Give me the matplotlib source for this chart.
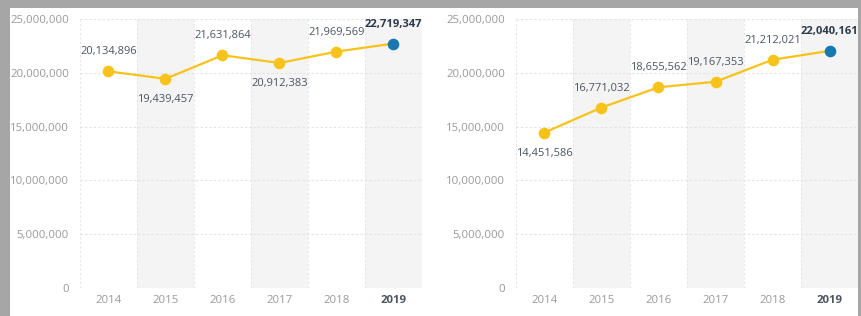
import matplotlib.pyplot as plt
from matplotlib.patches import Rectangle
from matplotlib.ticker import FuncFormatter

plt.rcParams['font.family'] = ['Open Sans', 'DejaVu Sans']

years = ['2014', '2015', '2016', '2017', '2018', '2019']
left_values = [20134896, 19439457, 21631864, 20912383, 21969569, 22719347]
right_values = [14451586, 16771032, 18655562, 19167353, 21212021, 22040161]
left_label_pos = ['up', 'down', 'up', 'down', 'up', 'up']
right_label_pos = ['down', 'up', 'up', 'up', 'up', 'up']
y_ticks = [0, 5000000, 10000000, 15000000, 20000000, 25000000]

YELLOW = '#f7c31a'
BLUE = '#1878b4'
W, H = 862, 316

fig = plt.figure(figsize=(W / 100, H / 100), dpi=100)
fig.patch.set_facecolor('#a6a6a6')
fig.patches.append(Rectangle((10 / W, 0), 848 / W, 308 / H, transform=fig.transFigure,
                             facecolor='white', edgecolor='none', zorder=-10))


def draw_panel(left_px, values, label_pos):
    ax = fig.add_axes([left_px / W, 28 / H, 342 / W, 269 / H])
    ax.set_zorder(1)
    x = list(range(len(years)))
    ax.set_xlim(-0.5, len(years) - 0.5)
    ax.set_ylim(0, 25000000)
    # alternating column shading
    for i in x:
        if i % 2 == 1:
            ax.axvspan(i - 0.5, i + 0.5, color='#f4f4f4', lw=0, zorder=0)
        ax.axvline(i - 0.5, color='#e6e6e6', lw=0.8, ls=(0, (2, 2)), zorder=1)
    ax.axvline(len(years) - 0.5, color='#e6e6e6', lw=0.8, ls=(0, (2, 2)), zorder=1)
    for t in y_ticks:
        ax.axhline(t, color='#e3e3e3', lw=0.8, ls=(0, (2, 2)), zorder=1)

    ax.plot(x, values, color=YELLOW, lw=1.6, zorder=3)
    ax.scatter(x[:-1], values[:-1], s=70, color=YELLOW, zorder=4, lw=0)
    ax.scatter(x[-1:], values[-1:], s=70, color=BLUE, zorder=4, lw=0)

    for i, (v, pos) in enumerate(zip(values, label_pos)):
        last = i == len(values) - 1
        dy = 14 if pos == 'up' else -15
        ax.annotate(f'{v:,}', (i, v), xytext=(0, dy), textcoords='offset points',
                    ha='center', va='center', fontsize=8,
                    color='#2d3a4a' if last else '#4d5560',
                    fontweight='bold' if last else 'normal', zorder=5)

    ax.set_xticks(x)
    ax.set_xticklabels(years)
    for i, lab in enumerate(ax.get_xticklabels()):
        if i == len(years) - 1:
            lab.set_fontweight('bold')
            lab.set_color('#4d5560')
        else:
            lab.set_color('#999999')
    ax.set_yticks(y_ticks)
    ax.yaxis.set_major_formatter(FuncFormatter(lambda v, p: f'{int(v):,}'))
    ax.tick_params(axis='both', length=0, labelsize=8.2)
    ax.tick_params(axis='y', colors='#999999', pad=8)
    ax.tick_params(axis='x', pad=5)
    for s in ax.spines.values():
        s.set_visible(False)
    ax.set_facecolor('white')
    return ax


draw_panel(80, left_values, left_label_pos)
draw_panel(516, right_values, right_label_pos)

fig.savefig('out.png', dpi=100, facecolor=fig.get_facecolor())
